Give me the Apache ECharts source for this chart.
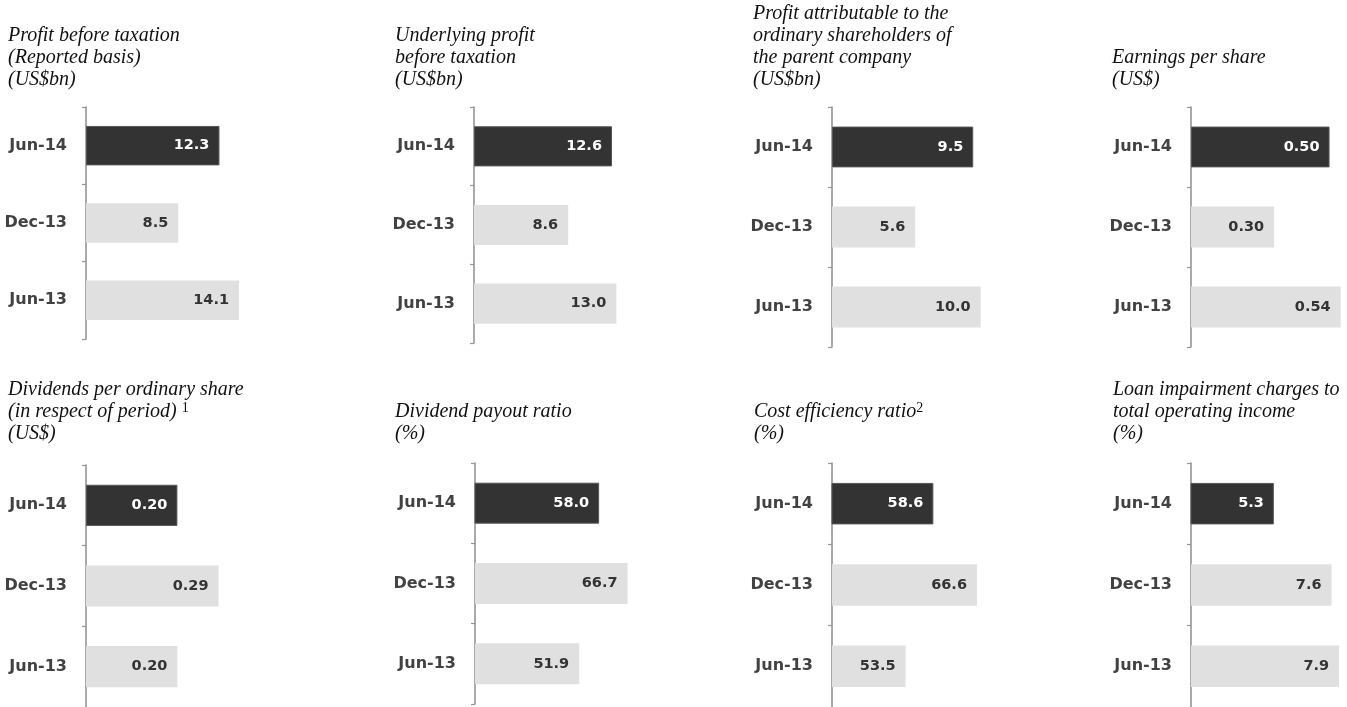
<!DOCTYPE html>
<html>
<head>
<meta charset="utf-8">
<script src="https://cdn.jsdelivr.net/npm/echarts@6/dist/echarts.min.js"></script>
<style>
html,body{margin:0;padding:0;background:#fff;}
#chart{width:1347px;height:707px;}
</style>
</head>
<body>
<div id="chart"></div>
<script>
// ---- data ----
const categories = ['Jun-14', 'Dec-13', 'Jun-13'];

const profitBeforeTax = [12.3, 8.5, 14.1];
const underlyingProfit = [12.6, 8.6, 13.0];
const profitAttributable = [9.5, 5.6, 10.0];
const earningsPerShare = [0.50, 0.30, 0.54];
const dividendsPerShare = [0.20, 0.29, 0.20];
const dividendPayoutRatio = [58.0, 66.7, 51.9];
const costEfficiencyRatio = [58.6, 66.6, 53.5];
const loanImpairmentRatio = [5.3, 7.6, 7.9];

const titles = [
  'Profit before taxation\n(Reported basis)\n(US$bn)',
  'Underlying profit\nbefore taxation\n(US$bn)',
  'Profit attributable to the\nordinary shareholders of\nthe parent company\n(US$bn)',
  'Earnings per share\n(US$)',
  'Dividends per ordinary share\n(in respect of period) {sup|1}\n(US$)',
  'Dividend payout ratio\n(%)',
  'Cost efficiency ratio{sup|2}\n(%)',
  'Loan impairment charges to\ntotal operating income\n(%)'
];

const seriesValues = [
  profitBeforeTax, underlyingProfit, profitAttributable, earningsPerShare,
  dividendsPerShare, dividendPayoutRatio, costEfficiencyRatio, loanImpairmentRatio
];
const decimals = [1, 1, 1, 2, 2, 1, 1, 1];

// ---- layout (positions / scales) ----
const panels = [
  {left: 86,   top: 107, height: 232, width: 217,   min: 0,  max: 20,   titleLeft: 8,    titleBottom: 616},
  {left: 474,  top: 107, height: 236, width: 219,   min: 0,  max: 20,   titleLeft: 395,  titleBottom: 616},
  {left: 832,  top: 107, height: 240, width: 223,   min: 0,  max: 15,   titleLeft: 753,  titleBottom: 616},
  {left: 1191, top: 107, height: 240, width: 152.4, min: 0,  max: 0.55, titleLeft: 1112, titleBottom: 616},
  {left: 86,   top: 465, height: 246, width: 228.5, min: 0,  max: 0.5,  titleLeft: 8,    titleBottom: 262},
  {left: 475,  top: 463, height: 241, width: 196,   min: 20, max: 80,   titleLeft: 395,  titleBottom: 262},
  {left: 832,  top: 463, height: 246, width: 218,   min: 40, max: 80,   titleLeft: 754,  titleBottom: 262},
  {left: 1191, top: 463, height: 246, width: 150.6, min: 2,  max: 8,    titleLeft: 1113, titleBottom: 262}
];

const DARK = '#333333';
const LIGHT = '#e0e0e0';

const option = {
  animation: false,
  backgroundColor: '#ffffff',
  title: [], grid: [], xAxis: [], yAxis: [], series: []
};

panels.forEach((p, i) => {
  option.title.push({
    text: titles[i],
    left: p.titleLeft,
    bottom: p.titleBottom,
    padding: 0,
    textStyle: {
      fontFamily: 'Liberation Serif',
      fontStyle: 'italic',
      fontWeight: 'normal',
      fontSize: 20,
      lineHeight: 22,
      color: '#111111',
      rich: {
        sup: {
          fontFamily: 'Liberation Serif',
          fontStyle: 'normal',
          fontSize: 14,
          lineHeight: 10,
          verticalAlign: 'top',
          color: '#111111'
        }
      }
    }
  });
  option.grid.push({left: p.left, top: p.top, width: p.width, height: p.height, containLabel: false});
  option.xAxis.push({
    gridIndex: i, type: 'value', min: p.min, max: p.max, show: false
  });
  option.yAxis.push({
    gridIndex: i, type: 'category', data: categories, inverse: true,
    axisLine: {show: true, lineStyle: {color: '#959595', width: 1.6}},
    axisTick: {show: true, length: 4, lineStyle: {color: '#959595', width: 1.2}},
    splitLine: {show: false},
    axisLabel: {
      margin: 19,
      fontFamily: 'DejaVu Sans',
      fontWeight: 'bold',
      fontSize: 16,
      color: '#424242'
    }
  });
  const dec = decimals[i];
  option.series.push({
    type: 'bar',
    xAxisIndex: i, yAxisIndex: i,
    barWidth: '51%',
    data: seriesValues[i].map((v, j) => ({
      value: v,
      itemStyle: j === 0
        ? {color: DARK, borderColor: '#555555', borderWidth: 1}
        : {color: LIGHT},
      label: {color: j === 0 ? '#ffffff' : '#333333'}
    })),
    label: {
      show: true,
      position: 'insideRight',
      distance: 10,
      fontFamily: 'DejaVu Sans',
      fontWeight: 'bold',
      fontSize: 14.5,
      formatter: (prm) => Number(prm.value).toFixed(dec)
    }
  });
});

const chart = echarts.init(document.getElementById('chart'), null, {renderer: 'canvas'});
chart.setOption(option);
</script>
</body>
</html>
